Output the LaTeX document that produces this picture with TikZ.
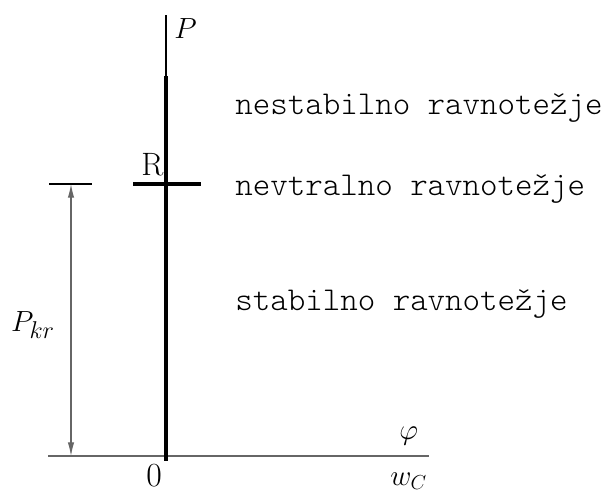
\documentclass[tikz,border=0pt]{standalone}
\usetikzlibrary{arrows.meta,positioning}
\begin{document}
\begin{tikzpicture}[x=0.025cm,y=-0.025cm,>={Latex[length=3.4mm,width=1.6mm]}, every node/.style={font=\fontsize{22}{26}\selectfont,inner sep=0pt}]
\tikzstyle{state}=[font=\fontsize{23.7}{28}\fontseries{l}\ttfamily\selectfont,anchor=base west]
\tikzstyle{axisline}=[line width=0.8pt]
\tikzstyle{heavy}=[line width=2.8pt]
\useasboundingbox (0,0) rectangle (604,489);
% axes
\coordinate (ptop) at (166,15);
\coordinate (pkink) at (166,76);
\coordinate (pfoot) at (166,461);
\coordinate (xleft) at (48,456);
\coordinate (xright) at (429,456);
\coordinate (rleft) at (133,184);
\coordinate (rright) at (201,184);
\coordinate (ticka) at (49,184);
\coordinate (tickb) at (92,184);
\coordinate (dimtop) at (71,184);
\coordinate (dimbot) at (71,456);
\draw[axisline] (ptop) -- (pkink);
\draw[axisline,black!60] (xleft) -- (xright);
\draw[heavy] (pkink) -- (pfoot);
\draw[heavy] (rleft) -- (rright);
\draw[axisline] (ticka) -- (tickb);
\draw[<->,axisline,black!60] (dimtop) -- (dimbot);
% labels
\node[anchor=base west] (p) at (174,38) {$P$};
\node[anchor=base west,font=\fontsize{23}{26}\selectfont] (r) at (141,175) {R};
\node[anchor=base,font=\fontsize{24}{28}\selectfont] (zero) at (154,486) {0};
\node[anchor=base west,font=\fontsize{20}{24}\selectfont] (phi) at (399,439) {$\varphi$};
\node[anchor=base west] (wc) at (390,485) {$w_C$};
\node (pkr) at (33,325) {$P_{\mbox{\fontsize{16}{16}\selectfont$kr$}}$};
\node[state] (nest) at (235,114) {nestabilno ravnotežje};
\node[state] (nevt) at (235,195) {nevtralno ravnotežje};
\node[state] (stab) at (235,310) {stabilno ravnotežje};
\end{tikzpicture}
\end{document}
